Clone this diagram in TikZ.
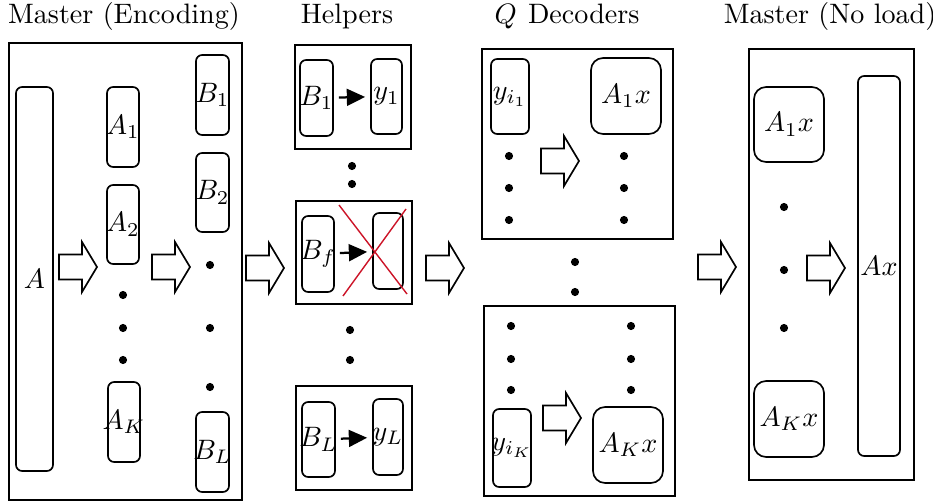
\documentclass[tikz,border=0pt]{standalone}
\usetikzlibrary{fit,arrows.meta}
\definecolor{crossred}{RGB}{204,20,40}
\begin{document}
\begin{tikzpicture}[x=0.356pt,y=-0.356pt,
  panel/.style={draw,line width=0.6pt,inner sep=0pt},
  rbox/.style={draw,line width=0.6pt,rounded corners=2.2pt,inner sep=0pt},
  bbox/.style={draw,line width=0.6pt,rounded corners=4.3pt,inner sep=0pt},
  title/.style={anchor=base,inner sep=0pt},
  harrow/.style={line width=0.8pt,-{Triangle[length=6.5pt,width=6pt]},shorten <=1.8pt,shorten >=1.8pt},
  cross/.style={draw=crossred,line width=0.5pt},
  barrow/.pic={\draw[line width=0.6pt,fill=white] (0,-12.5) -- (23,-12.5) -- (23,-25) -- (38,0) -- (23,25) -- (23,12.5) -- (0,12.5) -- cycle;}
]
\useasboundingbox (0,0) rectangle (933,501);

% titles
\node[title] (t1) at (124,24) {Master (Encoding)};
\node[title] (t2) at (347,24) {Helpers};
\node[title] (t3) at (567,24) {$Q$\hspace{4pt}Decoders};
\node[title] (t4) at (830,24) {Master (No load)};

% panel 1
\node[panel,fit={(9,43)(242,500)}] (P1) {};
\node[rbox,fit={(16,87)(53,471)},label={center:$A$}] (A) {};
\node[rbox,fit={(107,87)(139,167)},label={center:$A_1$}] (A1) {};
\node[rbox,fit={(107,185)(139,264)},label={center:$A_2$}] (A2) {};
\node[rbox,fit={(108,382)(140,462)},label={center:$A_K$}] (AK) {};
\node[rbox,fit={(196,55)(229,135)},label={center:$B_1$}] (B1) {};
\node[rbox,fit={(196,153)(229,232)},label={center:$B_2$}] (B2) {};
\node[rbox,fit={(196,412)(229,492)},label={center:$B_L$}] (BL) {};
\foreach \y in {295,328,360} \fill (123,\y) circle[radius=1.45pt];
\foreach \y in {265,328,387} \fill (210,\y) circle[radius=1.45pt];
\pic (ar1) at (59,267) {barrow};
\pic (ar2) at (152,267) {barrow};
\pic (ar3) at (246,268) {barrow};

% helpers
\node[panel,fit={(295,45)(411,149)}] (H1) {};
\node[rbox,fit={(300,60)(333,136)},label={center:$B_1$}] (hb1) {};
\node[rbox,fit={(371,59)(402,134)},label={center:$y_1$}] (hy1) {};
\draw[harrow] (hb1) -- (hy1);
\foreach \y in {166,184} \fill (352,\y) circle[radius=1.45pt];
\node[panel,fit={(296,201)(412,304)}] (Hf) {};
\node[rbox,fit={(302,216)(334,292)},label={center:$B_f$}] (hbf) {};
\node[rbox,fit={(373,213)(403,289)}] (hyf) {};
\draw[harrow] (hbf) -- (hyf);
\draw[cross] (339,205) -- (407,294);
\draw[cross] (343,296) -- (406,209);
\foreach \y in {330,360} \fill (350,\y) circle[radius=1.45pt];
\node[panel,fit={(296,386)(412,490)}] (HL) {};
\node[rbox,fit={(302,402)(335,477)},label={center:$B_L$}] (hbl) {};
\node[rbox,fit={(373,399)(403,475)},label={center:$y_L$}] (hyl) {};
\draw[harrow] (hbl) -- (hyl);
\pic (ar4) at (426,268) {barrow};

% decoders
\node[panel,fit={(482,49)(673,239)}] (D1) {};
\node[rbox,fit={(491,59)(529,134)},label={center:$y_{i_1}$}] (dy1) {};
\node[bbox,fit={(591,58)(661,134)},label={center:$A_1x$}] (da1) {};
\pic (ar5) at (541,161) {barrow};
\foreach \y in {156,188,220} {\fill (509,\y) circle[radius=1.45pt]; \fill (624,\y) circle[radius=1.45pt];}
\foreach \y in {262,292} \fill (575,\y) circle[radius=1.45pt];
\node[panel,fit={(484,306)(675,496)}] (D2) {};
\foreach \y in {326,359,390} {\fill (511,\y) circle[radius=1.45pt]; \fill (631,\y) circle[radius=1.45pt];}
\node[rbox,fit={(493,409)(531,487)},label={center:$y_{i_K}$}] (dyk) {};
\node[bbox,fit={(593,407)(663,483)},label={center:$A_Kx$}] (dak) {};
\pic (ar6) at (543,418) {barrow};
\pic (ar7) at (698,267) {barrow};

% master no load
\node[panel,fit={(749,49)(914,480)}] (M) {};
\node[bbox,fit={(754,87)(824,162)},label={center:$A_1x$}] (ma1) {};
\node[bbox,fit={(754,381)(824,457)},label={center:$A_Kx$}] (mak) {};
\foreach \y in {207,270,328} \fill (784,\y) circle[radius=1.45pt];
\node[rbox,fit={(858,76)(900,456)},label={center:$Ax$}] (ax) {};
\pic (ar8) at (807,268) {barrow};
\end{tikzpicture}
\end{document}
